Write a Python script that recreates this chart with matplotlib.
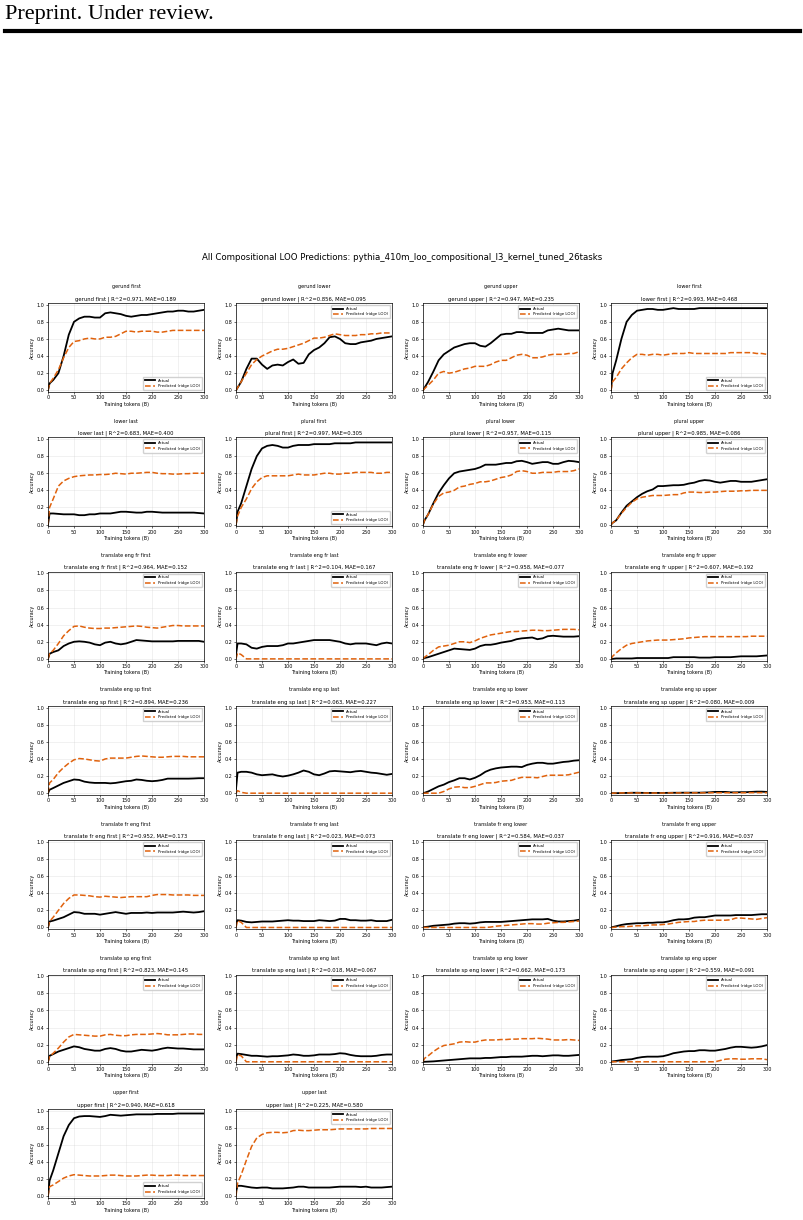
import matplotlib
matplotlib.use("Agg")
import matplotlib.pyplot as plt

tokens = [0, 3, 10, 20, 30, 40, 50, 60, 70, 80, 90, 100, 110, 120, 130, 140, 150,
          160, 170, 180, 190, 200, 210, 220, 230, 240, 250, 260, 270, 280, 290, 300]

tasks = ["gerund first", "gerund lower", "gerund upper", "lower first",
         "lower last", "plural first", "plural lower", "plural upper",
         "translate eng fr first", "translate eng fr last", "translate eng fr lower", "translate eng fr upper",
         "translate eng sp first", "translate eng sp last", "translate eng sp lower", "translate eng sp upper",
         "translate fr eng first", "translate fr eng last", "translate fr eng lower", "translate fr eng upper",
         "translate sp eng first", "translate sp eng last", "translate sp eng lower", "translate sp eng upper",
         "upper first", "upper last"]
r2 = [0.971, 0.856, 0.947, 0.993, 0.683, 0.997, 0.957, 0.985,
      0.964, 0.104, 0.958, 0.607, 0.894, 0.063, 0.953, 0.080,
      0.952, 0.023, 0.584, 0.916, 0.823, 0.018, 0.662, 0.559,
      0.940, 0.225]
mae = [0.189, 0.095, 0.235, 0.468, 0.400, 0.305, 0.115, 0.086,
       0.152, 0.167, 0.077, 0.192, 0.236, 0.227, 0.113, 0.009,
       0.173, 0.073, 0.037, 0.037, 0.145, 0.067, 0.173, 0.091,
       0.618, 0.580]

gerund_first_act = [0.0, 0.08, 0.12, 0.2, 0.4, 0.65, 0.8, 0.84, 0.86, 0.86, 0.85, 0.85, 0.9, 0.91, 0.9, 0.89,
                    0.87, 0.86, 0.87, 0.88, 0.88, 0.89, 0.9, 0.91, 0.92, 0.92, 0.93, 0.93, 0.92, 0.92, 0.93, 0.94]
gerund_first_pred = [0.0, 0.08, 0.14, 0.24, 0.38, 0.5, 0.57, 0.58, 0.6, 0.61, 0.6, 0.6, 0.62, 0.62, 0.63, 0.66,
                     0.69, 0.69, 0.68, 0.69, 0.69, 0.69, 0.68, 0.68, 0.69, 0.7, 0.7, 0.7, 0.7, 0.7, 0.7, 0.7]
gerund_lower_act = [0.0, 0.03, 0.1, 0.25, 0.37, 0.37, 0.3, 0.25, 0.29, 0.3, 0.29, 0.33, 0.36, 0.31, 0.32, 0.42,
                    0.47, 0.5, 0.55, 0.62, 0.63, 0.6, 0.55, 0.54, 0.54, 0.56, 0.57, 0.58, 0.6, 0.61, 0.62, 0.63]
gerund_lower_pred = [0.0, 0.03, 0.1, 0.2, 0.3, 0.36, 0.4, 0.43, 0.46, 0.48, 0.48, 0.49, 0.51, 0.53, 0.55, 0.58,
                     0.61, 0.61, 0.62, 0.64, 0.66, 0.65, 0.64, 0.64, 0.64, 0.65, 0.65, 0.66, 0.66, 0.67, 0.67, 0.67]
gerund_upper_act = [0.0, 0.03, 0.1, 0.22, 0.35, 0.42, 0.46, 0.5, 0.52, 0.54, 0.55, 0.55, 0.52, 0.51, 0.55, 0.6,
                    0.65, 0.66, 0.66, 0.68, 0.68, 0.67, 0.67, 0.67, 0.67, 0.7, 0.71, 0.72, 0.71, 0.7, 0.7, 0.7]
gerund_upper_pred = [0.0, 0.02, 0.06, 0.12, 0.2, 0.22, 0.2, 0.21, 0.23, 0.25, 0.26, 0.28, 0.28, 0.28, 0.3, 0.33,
                     0.35, 0.35, 0.38, 0.41, 0.42, 0.41, 0.38, 0.38, 0.39, 0.41, 0.42, 0.42, 0.42, 0.43, 0.43, 0.45]
lower_first_act = [0.0, 0.2, 0.35, 0.6, 0.8, 0.88, 0.93, 0.94, 0.95, 0.95, 0.94, 0.94, 0.95, 0.96, 0.95, 0.95,
                   0.95, 0.95, 0.96, 0.96, 0.96, 0.96, 0.96, 0.96, 0.96, 0.96, 0.96, 0.96, 0.96, 0.96, 0.96, 0.96]
lower_first_pred = [0.0, 0.1, 0.15, 0.25, 0.32, 0.38, 0.42, 0.42, 0.41, 0.42, 0.42, 0.41, 0.42, 0.43, 0.43, 0.43,
                    0.44, 0.43, 0.43, 0.43, 0.43, 0.43, 0.43, 0.43, 0.44, 0.44, 0.44, 0.44, 0.44, 0.43, 0.43, 0.42]

lower_last_act = [0.0, 0.13, 0.13, 0.125, 0.12, 0.12, 0.12, 0.11, 0.11, 0.12, 0.12, 0.13, 0.13, 0.13, 0.14, 0.15,
                  0.15, 0.145, 0.14, 0.14, 0.15, 0.15, 0.145, 0.14, 0.14, 0.14, 0.14, 0.14, 0.14, 0.14, 0.135, 0.13]
lower_last_pred = [0.0, 0.2, 0.3, 0.45, 0.51, 0.54, 0.56, 0.57, 0.575, 0.58, 0.58, 0.585, 0.585, 0.59, 0.6, 0.595,
                   0.59, 0.6, 0.6, 0.605, 0.61, 0.61, 0.6, 0.595, 0.595, 0.59, 0.59, 0.595, 0.595, 0.6, 0.6, 0.6]
plural_first_act = [0.0, 0.15, 0.25, 0.45, 0.65, 0.8, 0.89, 0.92, 0.93, 0.92, 0.9, 0.9, 0.92, 0.93, 0.93, 0.93,
                    0.94, 0.94, 0.94, 0.94, 0.95, 0.95, 0.95, 0.95, 0.96, 0.96, 0.96, 0.96, 0.96, 0.96, 0.96, 0.96]
plural_first_pred = [0.0, 0.1, 0.2, 0.3, 0.42, 0.5, 0.55, 0.57, 0.57, 0.57, 0.57, 0.57, 0.58, 0.59, 0.58, 0.58,
                     0.58, 0.59, 0.6, 0.6, 0.59, 0.59, 0.6, 0.6, 0.61, 0.61, 0.61, 0.61, 0.6, 0.6, 0.61, 0.61]
plural_lower_act = [0.0, 0.05, 0.12, 0.25, 0.37, 0.46, 0.54, 0.6, 0.62, 0.63, 0.64, 0.65, 0.67, 0.7, 0.7, 0.7,
                    0.71, 0.72, 0.72, 0.74, 0.745, 0.73, 0.71, 0.72, 0.73, 0.73, 0.71, 0.71, 0.73, 0.745, 0.74, 0.73]
plural_lower_pred = [0.0, 0.05, 0.12, 0.24, 0.33, 0.37, 0.38, 0.4, 0.44, 0.45, 0.47, 0.48, 0.5, 0.5, 0.51, 0.53,
                     0.55, 0.56, 0.58, 0.62, 0.63, 0.62, 0.6, 0.6, 0.61, 0.61, 0.61, 0.62, 0.62, 0.62, 0.63, 0.65]
plural_upper_act = [0.0, 0.02, 0.05, 0.14, 0.22, 0.27, 0.32, 0.36, 0.39, 0.41, 0.45, 0.45, 0.455, 0.46, 0.46, 0.465,
                    0.48, 0.49, 0.51, 0.52, 0.515, 0.5, 0.49, 0.5, 0.51, 0.51, 0.5, 0.5, 0.5, 0.51, 0.52, 0.53]
plural_upper_pred = [0.0, 0.02, 0.05, 0.13, 0.2, 0.26, 0.3, 0.32, 0.33, 0.34, 0.34, 0.34, 0.345, 0.35, 0.35, 0.37,
                     0.38, 0.38, 0.375, 0.375, 0.38, 0.38, 0.385, 0.39, 0.39, 0.39, 0.395, 0.395, 0.4, 0.4, 0.4, 0.4]

eng_fr_first_act = [0.0, 0.06, 0.08, 0.1, 0.15, 0.18, 0.2, 0.205, 0.2, 0.19, 0.17, 0.16, 0.19, 0.2, 0.18, 0.17,
                    0.18, 0.2, 0.22, 0.215, 0.21, 0.205, 0.205, 0.205, 0.205, 0.205, 0.21, 0.21, 0.21, 0.21, 0.21, 0.2]
eng_fr_first_pred = [0.0, 0.06, 0.1, 0.18, 0.27, 0.33, 0.38, 0.385, 0.37, 0.36, 0.355, 0.355, 0.36, 0.36, 0.365, 0.37,
                     0.375, 0.38, 0.385, 0.38, 0.37, 0.365, 0.36, 0.37, 0.38, 0.39, 0.39, 0.385, 0.385, 0.385, 0.385, 0.385]
eng_fr_last_act = [0.05, 0.18, 0.18, 0.17, 0.13, 0.12, 0.14, 0.15, 0.15, 0.15, 0.16, 0.18, 0.18, 0.19, 0.2, 0.21,
                   0.22, 0.22, 0.22, 0.22, 0.21, 0.2, 0.18, 0.17, 0.18, 0.18, 0.18, 0.17, 0.16, 0.18, 0.19, 0.18]
eng_fr_last_pred = [0.0, 0.07, 0.05, 0.0, 0.0, 0.0, 0.0, 0.0, 0.0, 0.0, 0.0, 0.0, 0.0, 0.0, 0.0, 0.0,
                    0.0, 0.0, 0.0, 0.0, 0.0, 0.0, 0.0, 0.0, 0.0, 0.0, 0.0, 0.0, 0.0, 0.0, 0.0, 0.0]
eng_fr_lower_act = [0.0, 0.01, 0.02, 0.04, 0.06, 0.08, 0.1, 0.12, 0.115, 0.11, 0.105, 0.12, 0.15, 0.165, 0.165, 0.175,
                    0.19, 0.2, 0.21, 0.23, 0.24, 0.245, 0.25, 0.23, 0.24, 0.265, 0.27, 0.265, 0.26, 0.26, 0.26, 0.265]
eng_fr_lower_pred = [0.0, 0.02, 0.05, 0.1, 0.14, 0.15, 0.16, 0.18, 0.2, 0.2, 0.19, 0.21, 0.24, 0.26, 0.28, 0.29,
                     0.3, 0.31, 0.32, 0.32, 0.325, 0.33, 0.335, 0.335, 0.33, 0.33, 0.335, 0.34, 0.345, 0.345, 0.345, 0.34]
eng_fr_upper_act = [0.0, 0.0, 0.005, 0.005, 0.005, 0.005, 0.01, 0.01, 0.01, 0.01, 0.01, 0.01, 0.01, 0.02, 0.02, 0.02,
                    0.02, 0.02, 0.015, 0.015, 0.015, 0.02, 0.02, 0.02, 0.02, 0.025, 0.03, 0.03, 0.03, 0.03, 0.035, 0.04]
eng_fr_upper_pred = [0.0, 0.03, 0.07, 0.12, 0.16, 0.18, 0.19, 0.2, 0.21, 0.215, 0.22, 0.22, 0.22, 0.225, 0.23, 0.235,
                     0.245, 0.25, 0.255, 0.26, 0.26, 0.26, 0.26, 0.26, 0.26, 0.26, 0.26, 0.26, 0.265, 0.265, 0.265, 0.265]

eng_sp_first_act = [0.0, 0.04, 0.06, 0.09, 0.12, 0.14, 0.16, 0.155, 0.135, 0.125, 0.12, 0.12, 0.12, 0.115, 0.12, 0.13,
                    0.14, 0.145, 0.16, 0.155, 0.145, 0.14, 0.145, 0.155, 0.17, 0.17, 0.17, 0.17, 0.17, 0.172, 0.175, 0.175]
eng_sp_first_pred = [0.0, 0.12, 0.16, 0.24, 0.3, 0.35, 0.39, 0.405, 0.4, 0.39, 0.38, 0.375, 0.4, 0.41, 0.41, 0.41,
                     0.41, 0.42, 0.43, 0.435, 0.43, 0.425, 0.42, 0.42, 0.425, 0.43, 0.43, 0.43, 0.425, 0.425, 0.425, 0.425]
eng_sp_last_act = [0.05, 0.24, 0.25, 0.25, 0.24, 0.22, 0.21, 0.215, 0.22, 0.205, 0.195, 0.205, 0.22, 0.24, 0.265, 0.25,
                   0.22, 0.21, 0.23, 0.255, 0.26, 0.255, 0.25, 0.245, 0.255, 0.26, 0.25, 0.24, 0.235, 0.225, 0.215, 0.225]
eng_sp_last_pred = [0.0, 0.03, 0.01, 0.0, 0.0, 0.0, 0.0, 0.0, 0.0, 0.0, 0.0, 0.0, 0.0, 0.0, 0.0, 0.0,
                    0.0, 0.0, 0.0, 0.0, 0.0, 0.0, 0.0, 0.0, 0.0, 0.0, 0.0, 0.0, 0.0, 0.0, 0.0, 0.0]
eng_sp_lower_act = [0.0, 0.005, 0.02, 0.05, 0.08, 0.1, 0.13, 0.15, 0.175, 0.175, 0.16, 0.18, 0.21, 0.25, 0.275, 0.29,
                    0.3, 0.305, 0.31, 0.31, 0.305, 0.33, 0.345, 0.355, 0.355, 0.345, 0.345, 0.355, 0.365, 0.37, 0.38, 0.385]
eng_sp_lower_pred = [0.0, 0.0, 0.0, 0.0, 0.0, 0.02, 0.05, 0.07, 0.075, 0.065, 0.065, 0.08, 0.1, 0.12, 0.12, 0.125,
                     0.14, 0.145, 0.15, 0.17, 0.185, 0.185, 0.185, 0.18, 0.195, 0.21, 0.21, 0.21, 0.21, 0.215, 0.23, 0.245]
eng_sp_upper_act = [0.0, 0.0, 0.0, 0.002, 0.003, 0.005, 0.005, 0.004, 0.003, 0.003, 0.003, 0.003, 0.004, 0.005, 0.005, 0.006,
                    0.006, 0.006, 0.006, 0.008, 0.01, 0.015, 0.015, 0.015, 0.01, 0.01, 0.012, 0.012, 0.015, 0.018, 0.018, 0.015]
eng_sp_upper_pred = [0.0, 0.0, 0.002, 0.003, 0.003, 0.003, 0.003, 0.002, 0.002, 0.002, 0.002, 0.002, 0.003, 0.003, 0.003, 0.003,
                     0.004, 0.004, 0.004, 0.004, 0.005, 0.005, 0.005, 0.005, 0.005, 0.005, 0.005, 0.005, 0.006, 0.006, 0.006, 0.006]

fr_eng_first_act = [0.0, 0.07, 0.08, 0.1, 0.12, 0.15, 0.18, 0.175, 0.16, 0.16, 0.16, 0.15, 0.16, 0.17, 0.18, 0.17,
                    0.16, 0.17, 0.17, 0.17, 0.175, 0.17, 0.175, 0.175, 0.175, 0.175, 0.18, 0.185, 0.18, 0.175, 0.18, 0.19]
fr_eng_first_pred = [0.0, 0.07, 0.12, 0.2, 0.28, 0.34, 0.38, 0.38, 0.375, 0.37, 0.36, 0.355, 0.365, 0.36, 0.355, 0.35,
                     0.355, 0.36, 0.36, 0.36, 0.36, 0.375, 0.385, 0.385, 0.385, 0.38, 0.38, 0.38, 0.38, 0.375, 0.375, 0.375]
fr_eng_last_act = [0.05, 0.085, 0.08, 0.065, 0.06, 0.065, 0.07, 0.07, 0.07, 0.075, 0.08, 0.085, 0.08, 0.08, 0.075, 0.075,
                   0.075, 0.085, 0.08, 0.075, 0.08, 0.1, 0.1, 0.085, 0.085, 0.08, 0.08, 0.085, 0.075, 0.075, 0.075, 0.09]
fr_eng_last_pred = [0.0, 0.08, 0.06, 0.0, 0.0, 0.0, 0.0, 0.0, 0.0, 0.0, 0.0, 0.0, 0.0, 0.0, 0.0, 0.0,
                    0.0, 0.0, 0.0, 0.0, 0.0, 0.0, 0.0, 0.0, 0.0, 0.0, 0.0, 0.0, 0.0, 0.0, 0.0, 0.0]
fr_eng_lower_act = [0.0, 0.005, 0.01, 0.02, 0.025, 0.03, 0.035, 0.045, 0.05, 0.05, 0.045, 0.05, 0.06, 0.065, 0.065, 0.065,
                    0.065, 0.07, 0.075, 0.08, 0.085, 0.09, 0.095, 0.095, 0.095, 0.1, 0.08, 0.07, 0.07, 0.075, 0.08, 0.09]
fr_eng_lower_pred = [0.0, 0.0, 0.0, 0.0, 0.0, 0.0, 0.0, 0.0, 0.0, 0.0, 0.0, 0.0, 0.0, 0.0, 0.005, 0.015,
                     0.02, 0.025, 0.03, 0.035, 0.04, 0.045, 0.045, 0.04, 0.04, 0.05, 0.055, 0.06, 0.06, 0.065, 0.07, 0.075]
fr_eng_upper_act = [0.0, 0.005, 0.015, 0.03, 0.04, 0.045, 0.05, 0.05, 0.055, 0.055, 0.06, 0.06, 0.07, 0.085, 0.095, 0.095,
                    0.1, 0.115, 0.12, 0.12, 0.13, 0.14, 0.14, 0.14, 0.14, 0.145, 0.145, 0.145, 0.145, 0.15, 0.155, 0.155]
fr_eng_upper_pred = [0.0, 0.0, 0.005, 0.01, 0.01, 0.015, 0.02, 0.02, 0.025, 0.03, 0.03, 0.035, 0.04, 0.05, 0.06, 0.065,
                     0.07, 0.07, 0.08, 0.085, 0.085, 0.085, 0.085, 0.085, 0.09, 0.11, 0.11, 0.105, 0.1, 0.095, 0.105, 0.115]

sp_eng_first_act = [0.0, 0.07, 0.09, 0.12, 0.14, 0.16, 0.18, 0.17, 0.15, 0.14, 0.13, 0.13, 0.15, 0.16, 0.15, 0.13,
                    0.12, 0.12, 0.13, 0.14, 0.135, 0.13, 0.14, 0.155, 0.165, 0.16, 0.155, 0.155, 0.15, 0.145, 0.145, 0.145]
sp_eng_first_pred = [0.0, 0.06, 0.1, 0.16, 0.23, 0.29, 0.32, 0.315, 0.31, 0.305, 0.3, 0.3, 0.315, 0.32, 0.31, 0.305,
                     0.305, 0.315, 0.32, 0.32, 0.32, 0.325, 0.33, 0.325, 0.315, 0.315, 0.315, 0.32, 0.325, 0.325, 0.32, 0.32]
sp_eng_last_act = [0.05, 0.095, 0.09, 0.08, 0.07, 0.07, 0.065, 0.06, 0.065, 0.065, 0.07, 0.075, 0.085, 0.08, 0.07, 0.07,
                   0.075, 0.085, 0.085, 0.085, 0.09, 0.1, 0.095, 0.08, 0.07, 0.065, 0.065, 0.065, 0.07, 0.08, 0.085, 0.085]
sp_eng_last_pred = [0.0, 0.08, 0.07, 0.0, 0.0, 0.0, 0.0, 0.0, 0.0, 0.0, 0.0, 0.0, 0.0, 0.0, 0.0, 0.0,
                    0.0, 0.0, 0.0, 0.0, 0.0, 0.0, 0.0, 0.0, 0.0, 0.0, 0.0, 0.0, 0.0, 0.0, 0.0, 0.0]
sp_eng_lower_act = [0.0, 0.0, 0.002, 0.005, 0.01, 0.015, 0.02, 0.025, 0.03, 0.035, 0.04, 0.04, 0.04, 0.045, 0.045, 0.05,
                    0.055, 0.055, 0.06, 0.06, 0.06, 0.065, 0.07, 0.07, 0.065, 0.07, 0.075, 0.075, 0.07, 0.07, 0.075, 0.08]
sp_eng_lower_pred = [0.0, 0.04, 0.07, 0.12, 0.16, 0.19, 0.2, 0.21, 0.23, 0.235, 0.23, 0.23, 0.245, 0.255, 0.255, 0.255,
                     0.26, 0.26, 0.265, 0.265, 0.27, 0.27, 0.27, 0.275, 0.27, 0.265, 0.255, 0.255, 0.255, 0.26, 0.255, 0.25]
sp_eng_upper_act = [0.0, 0.005, 0.01, 0.02, 0.025, 0.03, 0.045, 0.055, 0.06, 0.06, 0.06, 0.065, 0.08, 0.1, 0.11, 0.12,
                    0.125, 0.125, 0.135, 0.135, 0.13, 0.13, 0.14, 0.15, 0.165, 0.175, 0.175, 0.17, 0.165, 0.17, 0.18, 0.195]
sp_eng_upper_pred = [0.0, 0.0, 0.0, 0.0, 0.0, 0.0, 0.0, 0.0, 0.0, 0.0, 0.0, 0.0, 0.0, 0.0, 0.0, 0.0,
                     0.0, 0.0, 0.0, 0.0, 0.0, 0.0, 0.015, 0.03, 0.035, 0.035, 0.03, 0.03, 0.035, 0.035, 0.035, 0.025]

upper_first_act = [0.0, 0.18, 0.3, 0.5, 0.7, 0.83, 0.91, 0.93, 0.935, 0.935, 0.93, 0.925, 0.935, 0.95, 0.945, 0.94,
                   0.945, 0.95, 0.955, 0.955, 0.955, 0.955, 0.96, 0.96, 0.96, 0.96, 0.965, 0.965, 0.965, 0.965, 0.965, 0.965]
upper_first_pred = [0.0, 0.11, 0.13, 0.17, 0.21, 0.235, 0.25, 0.245, 0.24, 0.235, 0.235, 0.235, 0.24, 0.245, 0.245, 0.24,
                    0.235, 0.235, 0.235, 0.24, 0.245, 0.245, 0.24, 0.24, 0.24, 0.245, 0.245, 0.24, 0.24, 0.24, 0.24, 0.24]
upper_last_act = [0.05, 0.12, 0.12, 0.11, 0.1, 0.095, 0.1, 0.1, 0.09, 0.09, 0.09, 0.095, 0.1, 0.11, 0.11, 0.1,
                  0.1, 0.1, 0.1, 0.1, 0.105, 0.11, 0.11, 0.11, 0.11, 0.105, 0.11, 0.1, 0.1, 0.1, 0.105, 0.11]
upper_last_pred = [0.0, 0.15, 0.25, 0.42, 0.58, 0.68, 0.72, 0.74, 0.745, 0.745, 0.74, 0.745, 0.765, 0.77, 0.765, 0.765,
                   0.77, 0.775, 0.775, 0.775, 0.78, 0.785, 0.785, 0.785, 0.785, 0.785, 0.785, 0.79, 0.79, 0.79, 0.79, 0.79]

actual = [gerund_first_act, gerund_lower_act, gerund_upper_act, lower_first_act,
          lower_last_act, plural_first_act, plural_lower_act, plural_upper_act,
          eng_fr_first_act, eng_fr_last_act, eng_fr_lower_act, eng_fr_upper_act,
          eng_sp_first_act, eng_sp_last_act, eng_sp_lower_act, eng_sp_upper_act,
          fr_eng_first_act, fr_eng_last_act, fr_eng_lower_act, fr_eng_upper_act,
          sp_eng_first_act, sp_eng_last_act, sp_eng_lower_act, sp_eng_upper_act,
          upper_first_act, upper_last_act]
predicted = [gerund_first_pred, gerund_lower_pred, gerund_upper_pred, lower_first_pred,
             lower_last_pred, plural_first_pred, plural_lower_pred, plural_upper_pred,
             eng_fr_first_pred, eng_fr_last_pred, eng_fr_lower_pred, eng_fr_upper_pred,
             eng_sp_first_pred, eng_sp_last_pred, eng_sp_lower_pred, eng_sp_upper_pred,
             fr_eng_first_pred, fr_eng_last_pred, fr_eng_lower_pred, fr_eng_upper_pred,
             sp_eng_first_pred, sp_eng_last_pred, sp_eng_lower_pred, sp_eng_upper_pred,
             upper_first_pred, upper_last_pred]

W, H = 804, 1220
fig = plt.figure(figsize=(W / 100, H / 100), dpi=100)

# page header
fig.text(5 / W, 1 - 14 / H, "Preprint. Under review.", family="Liberation Serif",
         fontsize=16, va="center", ha="left")
fig.add_artist(plt.Line2D([5 / W, 800 / W], [1 - 31 / H, 1 - 31 / H], color="black", lw=3))

fig.text(0.5, 1 - 257 / H,
         "All Compositional LOO Predictions: pythia_410m_loo_compositional_l3_kernel_tuned_26tasks",
         ha="center", va="center", fontsize=6.2)

lefts = [48, 236, 423, 611]
aw, ah = 156, 89
top0, step = 303, 134.3
orange = "#e0620d"

for i, name in enumerate(tasks):
    r, c = divmod(i, 4)
    top = top0 + r * step
    ax = fig.add_axes([lefts[c] / W, 1 - (top + ah) / H, aw / W, ah / H])
    ax.plot(tokens, actual[i], color="black", lw=1.3, label="Actual")
    ax.plot(tokens, predicted[i], color=orange, lw=1.1, ls="--", label="Predicted (ridge LOO)")
    ax.set_xlim(0, 300)
    ax.set_ylim(-0.02, 1.02)
    ax.set_xticks([0, 50, 100, 150, 200, 250, 300])
    ax.set_yticks([0.0, 0.2, 0.4, 0.6, 0.8, 1.0])
    ax.grid(True, alpha=0.3, lw=0.4)
    ax.tick_params(labelsize=3.5, length=1.5, width=0.4, pad=1)
    for s in ax.spines.values():
        s.set_linewidth(0.5)
    ax.set_xlabel("Training tokens (B)", fontsize=3.5, labelpad=1)
    ax.set_ylabel("Accuracy", fontsize=3.5, labelpad=1)
    ax.set_title(f"{name} | R^2={r2[i]:.3f}, MAE={mae[i]:.3f}", fontsize=3.8, pad=2)
    ax.text(0.5, 1.18, name, transform=ax.transAxes, ha="center", va="center", fontsize=3.5)
    ax.legend(loc="best", fontsize=2.8, handlelength=2.5, borderpad=0.5, labelspacing=0.4,
              framealpha=0.9, edgecolor="0.8")

fig.savefig("out.png", dpi=100)
